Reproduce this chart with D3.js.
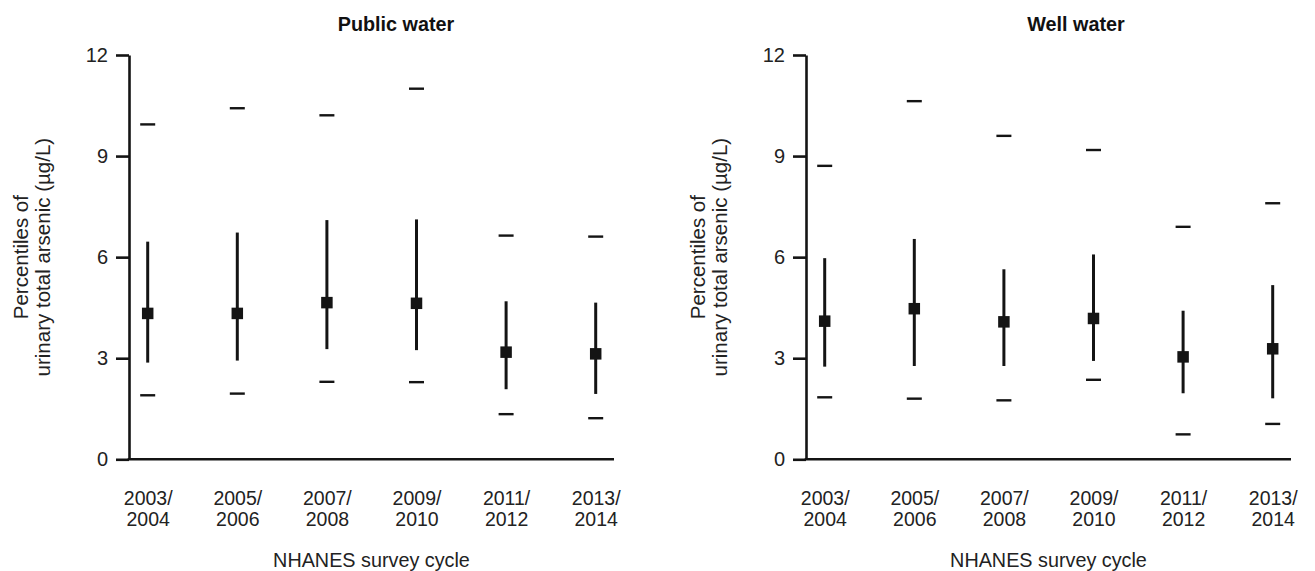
<!DOCTYPE html>
<html>
<head>
<meta charset="utf-8">
<script src="https://cdn.jsdelivr.net/npm/d3@7"></script>
<style>
  html, body { margin: 0; padding: 0; background: #fff; }
  svg { display: block; }
  text { font-family: "Liberation Sans", Arial, Helvetica, sans-serif; fill: #222; }
</style>
</head>
<body>
<svg id="chart" width="1315" height="571"></svg>
<script>
// ---- Data ----
const categories = ["2003/2004", "2005/2006", "2007/2008", "2009/2010", "2011/2012", "2013/2014"];
const yTicks = [0, 3, 6, 9, 12];
const panelTitles = ["Public water", "Well water"];

// Public water percentiles (µg/L)
const publicP05 = [1.90, 1.95, 2.30, 2.29, 1.34, 1.22];
const publicP25 = [2.87, 2.93, 3.27, 3.24, 2.08, 1.94];
const publicP50 = [4.33, 4.33, 4.65, 4.63, 3.18, 3.13];
const publicP75 = [6.46, 6.73, 7.10, 7.12, 4.69, 4.65];
const publicP95 = [9.94, 10.42, 10.21, 11.00, 6.64, 6.61];

// Well water percentiles (µg/L)
const wellP05 = [1.84, 1.80, 1.75, 2.36, 0.74, 1.05];
const wellP25 = [2.75, 2.77, 2.77, 2.92, 1.96, 1.81];
const wellP50 = [4.10, 4.47, 4.08, 4.18, 3.04, 3.28];
const wellP75 = [5.97, 6.54, 5.64, 6.08, 4.41, 5.17];
const wellP95 = [8.71, 10.63, 9.60, 9.18, 6.90, 7.60];

const yLabelLines = ["Percentiles of", "urinary total arsenic (µg/L)"];
const xTitle = "NHANES survey cycle";

function rows(p05, p25, p50, p75, p95) {
  return categories.map((c, i) => ({ cat: c, p05: p05[i], p25: p25[i], p50: p50[i], p75: p75[i], p95: p95[i] }));
}
const panels = [
  { title: panelTitles[0], data: rows(publicP05, publicP25, publicP50, publicP75, publicP95), axisX: 129, titleX: 396 },
  { title: panelTitles[1], data: rows(wellP05, wellP25, wellP50, wellP75, wellP95), axisX: 806, titleX: 1076 }
];

// ---- Layout ----
const svg = d3.select("#chart");
const yTop = 55, yBottom = 459.3;
const ink = "#141414";
const y = d3.scaleLinear().domain([0, 12]).range([yBottom, yTop]);

panels.forEach(p => {
  const g = svg.append("g");
  const x = d3.scalePoint().domain(categories).range([p.axisX + 18.7, p.axisX + 466.7]);

  // Title
  g.append("text")
    .attr("x", p.titleX).attr("y", 31)
    .attr("text-anchor", "middle")
    .style("font-weight", "bold").style("font-size", "19.8px").style("fill", "#111")
    .text(p.title);

  // Y axis
  const yAxis = d3.axisLeft(y).tickValues(yTicks).tickSize(13).tickSizeOuter(0).tickPadding(8);
  const ya = g.append("g").attr("transform", `translate(${p.axisX},0)`).call(yAxis);
  ya.attr("font-size", null).attr("font-family", null);
  ya.select(".domain").attr("stroke", ink).attr("stroke-width", 2.6);
  ya.selectAll(".tick line").attr("stroke", ink).attr("stroke-width", 2.6);
  ya.selectAll(".tick text").style("font-size", "20px").style("fill", "#222");

  // X axis baseline
  g.append("line")
    .attr("x1", p.axisX - 1.3).attr("x2", p.axisX + 485)
    .attr("y1", y(0)).attr("y2", y(0))
    .attr("stroke", ink).attr("stroke-width", 2.6);

  // X tick labels (two lines)
  const xAxis = d3.axisBottom(x).tickSize(0).tickPadding(0);
  const xa = g.append("g").attr("transform", `translate(0,${yBottom})`).call(xAxis);
  xa.attr("font-size", null).attr("font-family", null);
  xa.select(".domain").remove();
  xa.selectAll(".tick text").each(function(d) {
    const t = d3.select(this);
    const parts = d.split("/");
    t.text(null).attr("y", 0).attr("dy", null).style("font-size", "19.5px").style("fill", "#222");
    t.append("tspan").attr("x", 0).attr("y", 46).text(parts[0] + "/");
    t.append("tspan").attr("x", 0).attr("y", 67).text(parts[1]);
  });

  // X axis title
  g.append("text")
    .attr("x", p.axisX + 242.5).attr("y", 567)
    .attr("text-anchor", "middle")
    .style("font-size", "19.8px").style("fill", "#222")
    .text(xTitle);

  // Y axis title (two lines, rotated)
  const yl = g.append("text")
    .attr("transform", `translate(${p.axisX - 101},${(yTop + yBottom) / 2}) rotate(-90)`)
    .attr("text-anchor", "middle")
    .style("font-size", "20.5px").style("fill", "#222");
  yl.append("tspan").attr("x", 0).attr("y", 0).text(yLabelLines[0]);
  yl.append("tspan").attr("x", 0).attr("y", 21.5).text(yLabelLines[1]);

  // Marks
  const marks = g.append("g");
  const dashHalf = 7.5;
  // 5th / 95th percentile dashes
  ["p05", "p95"].forEach(k => {
    marks.selectAll(`line.${k}`).data(p.data).join("line")
      .attr("class", k)
      .attr("x1", d => x(d.cat) - dashHalf).attr("x2", d => x(d.cat) + dashHalf)
      .attr("y1", d => y(d[k])).attr("y2", d => y(d[k]))
      .attr("stroke", ink).attr("stroke-width", 2.4);
  });
  // 25th-75th whiskers
  marks.selectAll("line.iqr").data(p.data).join("line")
    .attr("class", "iqr")
    .attr("x1", d => x(d.cat)).attr("x2", d => x(d.cat))
    .attr("y1", d => y(d.p25)).attr("y2", d => y(d.p75))
    .attr("stroke", ink).attr("stroke-width", 3);
  // Median squares
  const sq = 11.5;
  marks.selectAll("rect.med").data(p.data).join("rect")
    .attr("class", "med")
    .attr("x", d => x(d.cat) - sq / 2).attr("y", d => y(d.p50) - sq / 2)
    .attr("width", sq).attr("height", sq)
    .attr("fill", ink);
});
</script>
</body>
</html>
